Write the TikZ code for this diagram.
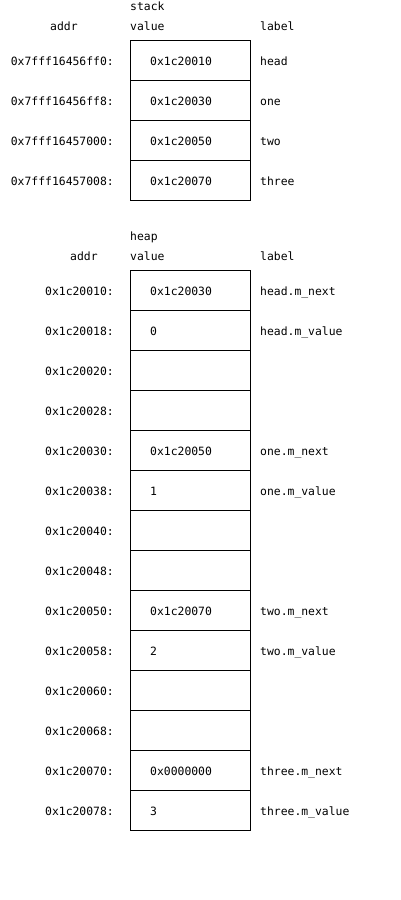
\documentclass[tikz,border=0pt]{standalone}
\usepackage{fontspec}
\setmonofont{DejaVu Sans Mono}
\begin{document}
\begin{tikzpicture}[x=1pt,y=-1pt,
  every node/.style={font=\ttfamily\fontsize{11.4}{13}\selectfont, inner sep=0pt},
  cell/.style={draw, line width=1pt, minimum width=120pt, minimum height=40pt, anchor=north west},
  addrtxt/.style={anchor=base east},
  valtxt/.style={anchor=base west},
  lbltxt/.style={anchor=base west},
  hdr/.style={anchor=base west}]
\useasboundingbox (0,0) rectangle (400,900);
% stack
\node[hdr] (stacktitle) at (130,10) {stack};
\node[hdr] (saddr) at (50,30) {addr};
\node[hdr] (sval) at (130,30) {value};
\node[hdr] (slbl) at (260,30) {label};
\foreach \i/\a/\v/\l in {0/0x7fff16456ff0:/0x1c20010/head,
                         1/0x7fff16456ff8:/0x1c20030/one,
                         2/0x7fff16457000:/0x1c20050/two,
                         3/0x7fff16457008:/0x1c20070/three}{
  \node[cell] (s\i) at (130,{40+40*\i}) {};
  \node[addrtxt] (sa\i) at (114,{65+40*\i}) {\a};
  \node[valtxt] (sv\i) at (150,{65+40*\i}) {\v};
  \node[lbltxt] (sl\i) at (260,{65+40*\i}) {\l};
}
% heap
\node[hdr] (heaptitle) at (130,240) {heap};
\node[hdr] (haddr) at (70,260) {addr};
\node[hdr] (hval) at (130,260) {value};
\node[hdr] (hlbl) at (260,260) {label};
\foreach \i/\a/\v/\l in {0/10/0x1c20030/head.m\_next,
                         1/18/0/head.m\_value,
                         2/20/{}/{},
                         3/28/{}/{},
                         4/30/0x1c20050/one.m\_next,
                         5/38/1/one.m\_value,
                         6/40/{}/{},
                         7/48/{}/{},
                         8/50/0x1c20070/two.m\_next,
                         9/58/2/two.m\_value,
                         10/60/{}/{},
                         11/68/{}/{},
                         12/70/0x0000000/three.m\_next,
                         13/78/3/three.m\_value}{
  \node[cell] (h\i) at (130,{270+40*\i}) {};
  \node[addrtxt] (ha\i) at (114,{295+40*\i}) {0x1c200\a:};
  \node[valtxt] (hv\i) at (150,{295+40*\i}) {\v};
  \node[lbltxt] (hl\i) at (260,{295+40*\i}) {\l};
}
\end{tikzpicture}
\end{document}
